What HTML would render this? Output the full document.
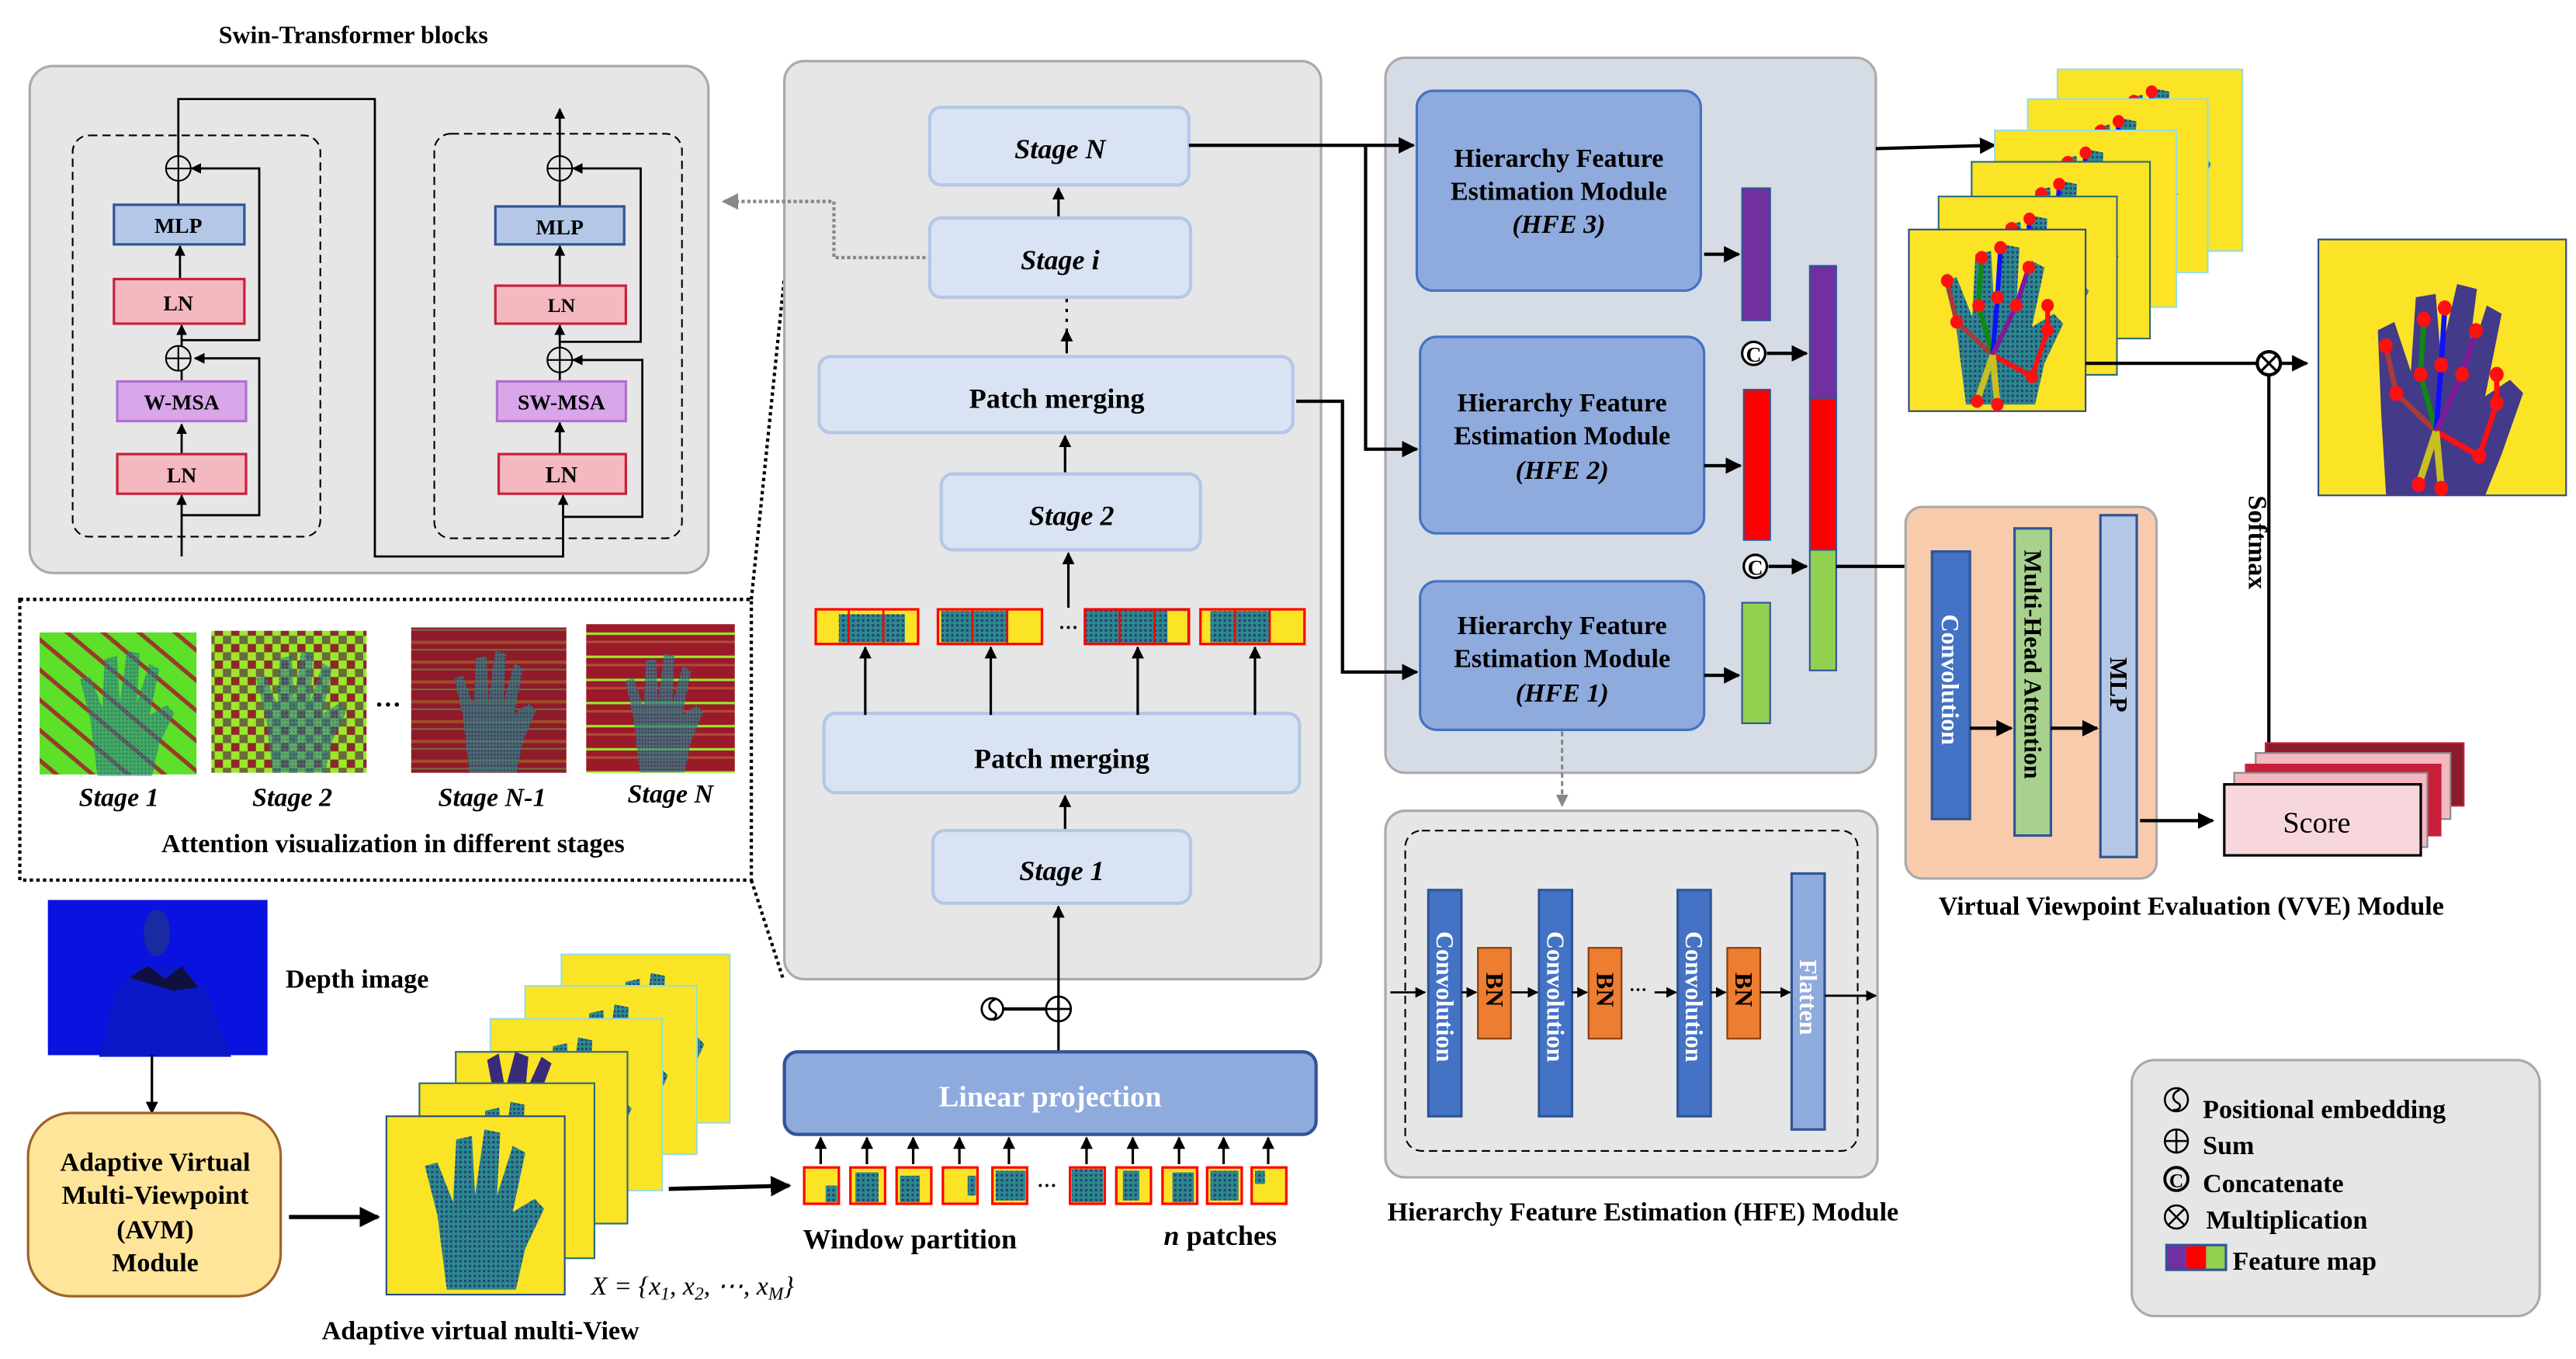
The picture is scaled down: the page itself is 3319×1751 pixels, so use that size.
<!DOCTYPE html>
<html><head><meta charset="utf-8"><style>
html,body{margin:0;padding:0;background:#fff;}
svg{display:block;}
text{font-family:"Liberation Serif",serif;font-weight:bold;fill:#000;}
.it{font-style:italic;}
</style></head><body>
<svg width="3319" height="1751" viewBox="0 0 1560 823" preserveAspectRatio="none" xmlns="http://www.w3.org/2000/svg">
<defs>
<marker id="ah" viewBox="0 0 10 10" refX="9" refY="5" markerWidth="5" markerHeight="5" orient="auto"><path d="M0,0L10,5L0,10z" fill="#000"/></marker>
<marker id="ahg" viewBox="0 0 10 10" refX="9" refY="5" markerWidth="5" markerHeight="5" orient="auto"><path d="M0,0L10,5L0,10z" fill="#888"/></marker>
<pattern id="dots" width="3" height="3" patternUnits="userSpaceOnUse"><rect width="3" height="3" fill="#2a8a8c"/><rect width="1.5" height="1.5" fill="#2b3d7a"/></pattern>
<pattern id="str1" width="14" height="14" patternUnits="userSpaceOnUse" patternTransform="rotate(40)"><rect width="14" height="14" fill="#5ce02a"/><rect width="14" height="2.5" fill="#9a3a2a"/></pattern>
<pattern id="chk" width="10" height="10" patternUnits="userSpaceOnUse"><rect width="10" height="10" fill="#9be82a"/><rect width="5" height="5" fill="#8a2a2a"/><rect x="5" y="5" width="5" height="5" fill="#6a6a3a"/></pattern>
<pattern id="hs1" width="10" height="12" patternUnits="userSpaceOnUse"><rect width="10" height="12" fill="#8e1a2a"/><rect y="4" width="10" height="2" fill="#a04a2a"/><rect y="9" width="10" height="1" fill="#7a6a3a"/></pattern>
<pattern id="hs2" width="10" height="14" patternUnits="userSpaceOnUse"><rect width="10" height="14" fill="#9a1a2a"/><rect y="5" width="10" height="1.5" fill="#9ae82a"/><rect y="10" width="10" height="1.5" fill="#b04a3a"/></pattern>
<g id="hand">
 <path d="M28,105 L22,60 L14,30 L22,28 L32,52 L34,14 L44,12 L46,48 L52,8 L62,10 L60,48 L70,18 L78,22 L70,58 L84,50 L90,56 L78,80 L72,105 Z" fill="url(#dots)"/>
</g>
<g id="skel">
 <g stroke-width="3" fill="none">
 <path d="M45,75 L22,55 L16,30" stroke="#a83a3a"/>
 <path d="M45,75 L36,45 L38,16" stroke="#118811"/>
 <path d="M45,75 L48,40 L50,10" stroke="#1010ff"/>
 <path d="M45,75 L60,45 L68,22" stroke="#801a9a"/>
 <path d="M45,75 L70,88 L80,60 L80,45" stroke="#ff1010"/>
 <path d="M45,75 L35,103 M45,75 L48,105" stroke="#c8c020" stroke-width="4"/>
 </g>
 <g fill="#ff1010">
 <circle cx="16" cy="30" r="4"/><circle cx="22" cy="55" r="4"/><circle cx="38" cy="16" r="4"/><circle cx="36" cy="45" r="4"/><circle cx="50" cy="10" r="4"/><circle cx="48" cy="40" r="4"/><circle cx="68" cy="22" r="4"/><circle cx="60" cy="45" r="4"/><circle cx="80" cy="45" r="4"/><circle cx="80" cy="60" r="4"/><circle cx="70" cy="88" r="4"/><circle cx="35" cy="103" r="4"/><circle cx="48" cy="105" r="4"/>
 </g>
</g>
<clipPath id="c1"><rect x="0" y="0" width="100" height="110"/></clipPath>
</defs>

<!-- Swin-Transformer blocks -->
<text x="214" y="26" font-size="15" text-anchor="middle">Swin-Transformer blocks</text>
<rect x="18" y="40" width="411" height="307" rx="14" fill="#e6e6e6" stroke="#aaa" stroke-width="1.5"/>
<rect x="44" y="82" width="150" height="243" rx="10" fill="none" stroke="#000" stroke-dasharray="5,3"/>
<rect x="263" y="81" width="150" height="245" rx="10" fill="none" stroke="#000" stroke-dasharray="5,3"/>
<g stroke="#000" stroke-width="1.3" fill="none">
 <line x1="110" y1="337" x2="110" y2="300" marker-end="url(#ah)"/>
 <line x1="110" y1="275" x2="110" y2="257" marker-end="url(#ah)"/>
 <line x1="110" y1="231" x2="110" y2="224"/>
 <line x1="110" y1="210" x2="110" y2="197" marker-end="url(#ah)"/>
 <line x1="109" y1="169" x2="109" y2="149" marker-end="url(#ah)"/>
 <line x1="108" y1="124" x2="108" y2="109"/>
 <polyline points="110,312 157,312 157,217 118,217" marker-end="url(#ah)"/>
 <polyline points="110,206 157,206 157,102 116,102" marker-end="url(#ah)"/>
 <polyline points="108,95 108,60 227,60 227,337 341,337 341,300" marker-end="url(#ah)"/>
 <line x1="339" y1="275" x2="339" y2="256" marker-end="url(#ah)"/>
 <line x1="339" y1="231" x2="339" y2="225"/>
 <line x1="339" y1="211" x2="339" y2="197" marker-end="url(#ah)"/>
 <line x1="339" y1="173" x2="339" y2="149" marker-end="url(#ah)"/>
 <line x1="339" y1="125" x2="339" y2="109"/>
 <line x1="339" y1="95" x2="339" y2="66" marker-end="url(#ah)"/>
 <polyline points="341,313 389,313 389,218 347,218" marker-end="url(#ah)"/>
 <polyline points="339,207 388,207 388,102 347,102" marker-end="url(#ah)"/>
</g>
<g stroke="#000" stroke-width="1" fill="none">
 <circle cx="108" cy="102" r="7.5"/><path d="M100.5,102h15M108,94.5v15"/>
 <circle cx="108" cy="217" r="7.5"/><path d="M100.5,217h15M108,209.5v15"/>
 <circle cx="339" cy="102" r="7.5"/><path d="M331.5,102h15M339,94.5v15"/>
 <circle cx="339" cy="218" r="7.5"/><path d="M331.5,218h15M339,210.5v15"/>
</g>
<rect x="69" y="124" width="79" height="24" fill="#b4c7e7" stroke="#2f5597" stroke-width="1.5"/>
<text x="108" y="141" font-size="13" text-anchor="middle">MLP</text>
<rect x="69" y="169" width="79" height="27" fill="#f4b8c0" stroke="#c8203a" stroke-width="1.5"/>
<text x="108" y="188" font-size="13" text-anchor="middle">LN</text>
<rect x="71" y="231" width="78" height="24" fill="#d9a6ea" stroke="#b070d0" stroke-width="1.5"/>
<text x="110" y="248" font-size="13" text-anchor="middle">W-MSA</text>
<rect x="71" y="275" width="78" height="24" fill="#f4b8c0" stroke="#c8203a" stroke-width="1.5"/>
<text x="110" y="292" font-size="13" text-anchor="middle">LN</text>
<rect x="300" y="125" width="78" height="23" fill="#b4c7e7" stroke="#2f5597" stroke-width="1.5"/>
<text x="339" y="142" font-size="13" text-anchor="middle">MLP</text>
<rect x="300" y="173" width="79" height="23" fill="#f4b8c0" stroke="#c8203a" stroke-width="1.5"/>
<text x="340" y="189" font-size="12" text-anchor="middle">LN</text>
<rect x="301" y="231" width="78" height="24" fill="#d9a6ea" stroke="#b070d0" stroke-width="1.5"/>
<text x="340" y="248" font-size="13" text-anchor="middle">SW-MSA</text>
<rect x="302" y="275" width="77" height="24" fill="#f4b8c0" stroke="#c8203a" stroke-width="1.5"/>
<text x="340" y="292" font-size="14" text-anchor="middle">LN</text>

<!-- attention visualization -->
<rect x="12" y="363" width="443" height="170" fill="none" stroke="#000" stroke-width="2" stroke-dasharray="2,2"/>
<line x1="455" y1="363" x2="475" y2="168" stroke="#000" stroke-width="2" stroke-dasharray="2,2"/>
<line x1="455" y1="533" x2="474" y2="592" stroke="#000" stroke-width="2" stroke-dasharray="2,2"/>
<rect x="24" y="383" width="95" height="86" fill="url(#str1)"/>
<use href="#hand" transform="translate(38,388) scale(0.75,0.78)" opacity="0.6"/>
<rect x="128" y="382" width="94" height="86" fill="url(#chk)"/>
<use href="#hand" transform="translate(145,388) scale(0.72,0.76)" opacity="0.6"/>
<rect x="249" y="380" width="94" height="88" fill="url(#hs1)"/>
<use href="#hand" transform="translate(266,388) scale(0.65,0.76)" opacity="0.7"/>
<rect x="355" y="378" width="90" height="90" fill="url(#hs2)"/>
<use href="#hand" transform="translate(370,390) scale(0.62,0.74)" opacity="0.7"/>
<text x="235" y="432" font-size="16" text-anchor="middle">···</text>
<text x="72" y="488" font-size="16" class="it" text-anchor="middle">Stage 1</text>
<text x="177" y="488" font-size="16" class="it" text-anchor="middle">Stage 2</text>
<text x="298" y="488" font-size="16" class="it" text-anchor="middle">Stage N-1</text>
<text x="406" y="486" font-size="16" class="it" text-anchor="middle">Stage N</text>
<text x="238" y="516" font-size="16" text-anchor="middle">Attention visualization in different stages</text>

<!-- middle panel -->
<rect x="475" y="37" width="325" height="556" rx="12" fill="#e6e6e6" stroke="#aaa" stroke-width="1.5"/>
<polyline points="564,156 505,156 505,122 438,122" fill="none" stroke="#888" stroke-width="2" stroke-dasharray="2,1.5" marker-end="url(#ahg)"/>
<g fill="#dae3f3" stroke="#b4c7e7" stroke-width="2">
 <rect x="563" y="65" width="157" height="47" rx="7"/>
 <rect x="563" y="132" width="158" height="48" rx="7"/>
 <rect x="496" y="216" width="287" height="46" rx="7"/>
 <rect x="570" y="287" width="157" height="46" rx="7"/>
 <rect x="499" y="432" width="288" height="48" rx="7"/>
 <rect x="565" y="503" width="156" height="44" rx="7"/>
</g>
<text x="642" y="96" font-size="17" class="it" text-anchor="middle">Stage N</text>
<text x="642" y="163" font-size="17" class="it" text-anchor="middle">Stage i</text>
<text x="640" y="247" font-size="17" text-anchor="middle">Patch merging</text>
<text x="649" y="318" font-size="17" class="it" text-anchor="middle">Stage 2</text>
<text x="643" y="465" font-size="17" text-anchor="middle">Patch merging</text>
<text x="643" y="533" font-size="17" class="it" text-anchor="middle">Stage 1</text>
<g stroke="#000" stroke-width="1.5" fill="none">
 <line x1="641" y1="131" x2="641" y2="114" marker-end="url(#ah)"/>
 <line x1="646" y1="181" x2="646" y2="200" stroke-dasharray="2,4"/>
 <line x1="646" y1="214" x2="646" y2="200" marker-end="url(#ah)"/>
 <line x1="645" y1="286" x2="645" y2="264" marker-end="url(#ah)"/>
 <line x1="647" y1="368" x2="647" y2="335" marker-end="url(#ah)"/>
 <line x1="645" y1="502" x2="645" y2="482" marker-end="url(#ah)"/>
 <line x1="641" y1="637" x2="641" y2="549" marker-end="url(#ah)"/>
 <line x1="524" y1="433" x2="524" y2="392" marker-end="url(#ah)"/>
 <line x1="600" y1="433" x2="600" y2="392" marker-end="url(#ah)"/>
 <line x1="689" y1="433" x2="689" y2="392" marker-end="url(#ah)"/>
 <line x1="760" y1="433" x2="760" y2="392" marker-end="url(#ah)"/>
</g>
<g>
 <rect x="494" y="369" width="62" height="21" fill="#fbe425" stroke="#f00" stroke-width="1.5"/>
 <rect x="508" y="372" width="40" height="17" fill="url(#dots)"/>
 <rect x="568" y="369" width="63" height="21" fill="#fbe425" stroke="#f00" stroke-width="1.5"/>
 <rect x="570" y="370" width="40" height="19" fill="url(#dots)"/>
 <rect x="657" y="369" width="63" height="21" fill="url(#dots)" stroke="#f00" stroke-width="1.5"/>
 <rect x="707" y="370" width="12" height="19" fill="#fbe425"/>
 <rect x="727" y="369" width="63" height="21" fill="#fbe425" stroke="#f00" stroke-width="1.5"/>
 <rect x="733" y="370" width="36" height="19" fill="url(#dots)"/>
 <g stroke="#f00" stroke-width="1.2"><path d="M514,369v21M535,369v21M589,369v21M610,369v21M678,369v21M699,369v21M748,369v21M769,369v21"/></g>
</g>
<text x="647" y="384" font-size="12" text-anchor="middle">···</text>

<g stroke="#000" stroke-width="1.3" fill="none">
 <circle cx="641" cy="611" r="7.5"/><path d="M633.5,611h15M641,603.5v15"/>
 <line x1="607" y1="611" x2="633" y2="611" stroke-width="2"/>
 <circle cx="601" cy="611" r="6.5"/><path d="M603,605c-5,2 -5,6 -1,8c3,2 0,5 -3,4"/>
</g>
<rect x="475" y="637" width="322" height="50" rx="8" fill="#8faadc" stroke="#2f5597" stroke-width="2"/>
<text x="636" y="670" font-size="18" text-anchor="middle" style="fill:#fff">Linear projection</text>
<g>
 <g fill="#fbe425" stroke="#f00" stroke-width="1.5">
 <rect x="487" y="707" width="21" height="22"/><rect x="515" y="707" width="21" height="22"/><rect x="543" y="707" width="21" height="22"/><rect x="571" y="707" width="21" height="22"/><rect x="601" y="707" width="21" height="22"/>
 <rect x="648" y="707" width="21" height="22"/><rect x="676" y="707" width="21" height="22"/><rect x="704" y="707" width="21" height="22"/><rect x="731" y="707" width="21" height="22"/><rect x="758" y="707" width="21" height="22"/>
 </g>
 <g fill="url(#dots)">
 <rect x="500" y="718" width="7" height="10"/><rect x="518" y="710" width="14" height="18"/><rect x="545" y="712" width="12" height="16"/><rect x="586" y="712" width="5" height="12"/><rect x="603" y="709" width="18" height="18"/>
 <rect x="649" y="708" width="19" height="20"/><rect x="680" y="709" width="10" height="18"/><rect x="710" y="710" width="13" height="18"/><rect x="733" y="709" width="17" height="18"/><rect x="760" y="709" width="6" height="8"/>
 </g>
 <g stroke="#000" stroke-width="1.5">
 <line x1="497" y1="705" x2="497" y2="689" marker-end="url(#ah)"/><line x1="525" y1="705" x2="525" y2="689" marker-end="url(#ah)"/><line x1="553" y1="705" x2="553" y2="689" marker-end="url(#ah)"/><line x1="581" y1="705" x2="581" y2="689" marker-end="url(#ah)"/><line x1="611" y1="705" x2="611" y2="689" marker-end="url(#ah)"/>
 <line x1="658" y1="705" x2="658" y2="689" marker-end="url(#ah)"/><line x1="686" y1="705" x2="686" y2="689" marker-end="url(#ah)"/><line x1="714" y1="705" x2="714" y2="689" marker-end="url(#ah)"/><line x1="741" y1="705" x2="741" y2="689" marker-end="url(#ah)"/><line x1="768" y1="705" x2="768" y2="689" marker-end="url(#ah)"/>
 </g>
 <text x="634" y="722" font-size="12" text-anchor="middle">···</text>
</g>
<text x="551" y="756" font-size="17" text-anchor="middle">Window partition</text>
<text x="739" y="754" font-size="17" text-anchor="middle"><tspan class="it">n</tspan> patches</text>

<!-- depth & AVM -->
<rect x="29" y="545" width="133" height="94" fill="#0a12e0"/>
<ellipse cx="95" cy="565" rx="8" ry="14" fill="#1a2aa0"/>
<path d="M70,600 L85,585 L110,585 L125,600 L140,640 L60,640 Z" fill="#0a18c8"/>
<path d="M78,592 L90,585 L100,593 L110,585 L120,598 L105,600 Z" fill="#101040"/>
<text x="173" y="598" font-size="16">Depth image</text>
<line x1="92" y1="639" x2="92" y2="674" stroke="#000" stroke-width="1.5" marker-end="url(#ah)"/>
<rect x="17" y="674" width="153" height="111" rx="26" fill="#fee599" stroke="#a0622d" stroke-width="1.5"/>
<text x="94" y="709" font-size="16" text-anchor="middle">Adaptive Virtual</text>
<text x="94" y="729" font-size="16" text-anchor="middle">Multi-Viewpoint</text>
<text x="94" y="750" font-size="16" text-anchor="middle">(AVM)</text>
<text x="94" y="770" font-size="16" text-anchor="middle">Module</text>
<line x1="175" y1="737" x2="229" y2="737" stroke="#000" stroke-width="2.5" marker-end="url(#ah)"/>
<!-- multi-view stack -->
<rect x="340" y="578" width="102" height="102" fill="#fbe425" stroke="#9dd"/>
<use href="#hand" transform="translate(350,582) scale(0.85,0.9)"/>
<rect x="318" y="597" width="104" height="102" fill="#fbe425" stroke="#9dd"/>
<use href="#hand" transform="translate(328,601) scale(0.85,0.9)"/>
<rect x="297" y="617" width="104" height="104" fill="#fbe425" stroke="#9dd"/>
<use href="#hand" transform="translate(306,621) scale(0.85,0.9)"/>
<rect x="276" y="637" width="104" height="104" fill="#fbe425" stroke="#2a6a7a"/>
<path d="M295,642 L302,638 L306,660 L312,637 L320,640 L318,662 L328,640 L334,644 L325,668 L300,668 Z" fill="#3a2a7a"/>
<rect x="254" y="656" width="106" height="106" fill="#fbe425" stroke="#2a6a7a"/>
<use href="#hand" transform="translate(265,660) scale(0.85,0.9)"/>
<rect x="234" y="676" width="108" height="108" fill="#fbe425" stroke="#2a4a8a" stroke-width="1"/>
<use href="#hand" transform="translate(244,676) scale(0.95,1.0)"/>
<line x1="405" y1="720" x2="478" y2="718" stroke="#000" stroke-width="2.5" marker-end="url(#ah)"/>
<text x="358" y="784" font-size="16" class="it" style="font-weight:normal">X = {x<tspan font-size="11" dy="3">1</tspan><tspan dy="-3">, x</tspan><tspan font-size="11" dy="3">2</tspan><tspan dy="-3">, ⋯, x</tspan><tspan font-size="11" dy="3">M</tspan><tspan dy="-3">}</tspan></text>
<text x="291" y="811" font-size="16" text-anchor="middle">Adaptive virtual multi-View</text>

<!-- HFE panel -->
<rect x="839" y="35" width="297" height="433" rx="12" fill="#d6dce5" stroke="#aaa" stroke-width="1.5"/>
<g fill="#8faadc" stroke="#4472c4" stroke-width="1.5">
 <rect x="858" y="55" width="172" height="121" rx="10"/>
 <rect x="860" y="204" width="172" height="119" rx="10"/>
 <rect x="860" y="352" width="172" height="90" rx="10"/>
</g>
<g font-size="16" text-anchor="middle">
 <text x="944" y="101">Hierarchy Feature</text><text x="944" y="121">Estimation Module</text><text x="944" y="141" class="it">(HFE 3)</text>
 <text x="946" y="249">Hierarchy Feature</text><text x="946" y="269">Estimation Module</text><text x="946" y="290" class="it">(HFE 2)</text>
 <text x="946" y="384">Hierarchy Feature</text><text x="946" y="404">Estimation Module</text><text x="946" y="425" class="it">(HFE 1)</text>
</g>
<rect x="1055" y="114" width="17" height="80" fill="#7030a0" stroke="#2f5597"/>
<rect x="1056" y="236" width="16" height="91" fill="#ff0000" stroke="#2f5597"/>
<rect x="1055" y="365" width="17" height="73" fill="#92d050" stroke="#2f5597"/>
<rect x="1096" y="161" width="16" height="80" fill="#7030a0" stroke="#2f5597"/>
<rect x="1096" y="241" width="16" height="92" fill="#ff0000" stroke="#2f5597"/>
<rect x="1096" y="333" width="16" height="73" fill="#92d050" stroke="#2f5597"/>
<g stroke="#000" stroke-width="2" fill="none">
 <line x1="1032" y1="154" x2="1053" y2="154" marker-end="url(#ah)"/>
 <line x1="1032" y1="282" x2="1054" y2="282" marker-end="url(#ah)"/>
 <line x1="1032" y1="409" x2="1053" y2="409" marker-end="url(#ah)"/>
 <line x1="1070" y1="214" x2="1094" y2="214" marker-end="url(#ah)"/>
 <line x1="1071" y1="343" x2="1094" y2="343" marker-end="url(#ah)"/>
 <line x1="1112" y1="343" x2="1164" y2="343" marker-end="url(#ah)"/>
 <polyline points="720,88 856,88" marker-end="url(#ah)"/>
 <polyline points="827,88 827,272 858,272" marker-end="url(#ah)"/>
 <polyline points="785,243 813,243 813,407 858,407" marker-end="url(#ah)"/>
 <line x1="1136" y1="90" x2="1208" y2="88" marker-end="url(#ah)"/>
</g>
<g stroke="#000" stroke-width="1.5" fill="#fff">
 <circle cx="1062" cy="214" r="7"/><circle cx="1063" cy="343" r="7"/>
</g>
<text x="1062" y="219" font-size="13" text-anchor="middle">C</text>
<text x="1063" y="348" font-size="13" text-anchor="middle">C</text>
<line x1="946" y1="443" x2="946" y2="488" stroke="#888" stroke-width="1.5" stroke-dasharray="3,2" marker-end="url(#ahg)"/>

<!-- hand stack -->
<rect x="1246" y="42" width="112" height="110" fill="#fbe425" stroke="#9dd"/>
<use href="#hand" transform="translate(1258,46) scale(0.9,0.95)"/><use href="#skel" transform="translate(1258,46) scale(0.9,0.95)"/>
<rect x="1228" y="60" width="109" height="105" fill="#fbe425" stroke="#9dd"/>
<use href="#hand" transform="translate(1238,64) scale(0.9,0.95)"/><use href="#skel" transform="translate(1238,64) scale(0.9,0.95)"/>
<rect x="1208" y="79" width="110" height="107" fill="#fbe425" stroke="#9dd"/>
<use href="#hand" transform="translate(1218,83) scale(0.9,0.95)"/><use href="#skel" transform="translate(1218,83) scale(0.9,0.95)"/>
<rect x="1194" y="98" width="108" height="107" fill="#fbe425" stroke="#2a6a7a"/>
<use href="#hand" transform="translate(1202,102) scale(0.9,0.95)"/><use href="#skel" transform="translate(1202,102) scale(0.9,0.95)"/>
<rect x="1174" y="119" width="108" height="108" fill="#fbe425" stroke="#2a6a7a"/>
<use href="#hand" transform="translate(1184,123) scale(0.9,0.95)"/><use href="#skel" transform="translate(1184,123) scale(0.9,0.95)"/>
<rect x="1156" y="139" width="107" height="110" fill="#fbe425" stroke="#2a4a8a" stroke-width="1"/>
<use href="#hand" transform="translate(1164,140) scale(0.95,1.0)"/>
<use href="#skel" transform="translate(1164,140) scale(0.95,1.0)"/>
<line x1="1263" y1="220" x2="1367" y2="220" stroke="#000" stroke-width="2"/>
<circle cx="1374" cy="220" r="7" fill="#fff" stroke="#000" stroke-width="2"/>
<path d="M1369,215l10,10M1379,215l-10,10" stroke="#000" stroke-width="1.5"/>
<line x1="1381" y1="220" x2="1397" y2="220" stroke="#000" stroke-width="2" marker-end="url(#ah)"/>
<line x1="1374" y1="227" x2="1374" y2="450" stroke="#000" stroke-width="2"/>
<text x="0" y="0" font-size="16" transform="translate(1362,300) rotate(90)">Softmax</text>
<rect x="1404" y="145" width="150" height="155" fill="#fbe425" stroke="#2a4a8a" stroke-width="1"/>
<path d="M1445,300 L1442,250 L1440,200 L1450,195 L1460,225 L1463,180 L1475,178 L1478,215 L1488,172 L1500,175 L1494,222 L1506,185 L1515,190 L1505,240 L1520,230 L1528,238 L1515,275 L1505,300 Z" fill="#433a8a"/>
<use href="#skel" transform="translate(1428,175) scale(1.05,1.15)"/>

<!-- VVE -->
<rect x="1154" y="307" width="152" height="225" rx="10" fill="#f8cbad" stroke="#aaa" stroke-width="1.5"/>
<rect x="1170" y="334" width="23" height="162" fill="#4472c4" stroke="#2f5597" stroke-width="1.5"/>
<rect x="1220" y="320" width="22" height="186" fill="#a9d18e" stroke="#2f5597" stroke-width="1.5"/>
<rect x="1272" y="312" width="22" height="207" fill="#b4c7e7" stroke="#2f5597" stroke-width="1.5"/>
<text font-size="15" transform="translate(1176,372) rotate(90)" style="fill:#fff">Convolution</text>
<text font-size="15" transform="translate(1226,333) rotate(90)">Multi-Head Attention</text>
<text font-size="15" transform="translate(1278,398) rotate(90)">MLP</text>
<g stroke="#000" stroke-width="2">
 <line x1="1193" y1="441" x2="1218" y2="441" marker-end="url(#ah)"/>
 <line x1="1242" y1="441" x2="1270" y2="441" marker-end="url(#ah)"/>
 <line x1="1296" y1="497" x2="1340" y2="497" marker-end="url(#ah)"/>
</g>
<rect x="1372" y="450" width="120" height="38" fill="#8b1a2b" stroke="#c8203a"/>
<rect x="1366" y="456" width="118" height="40" fill="#f4b8c0" stroke="#888"/>
<rect x="1360" y="463" width="118" height="43" fill="#c8203a" stroke="#c8203a"/>
<rect x="1353" y="468" width="117" height="45" fill="#f4b8c0" stroke="#888"/>
<rect x="1347" y="475" width="119" height="43" fill="#f8d7dc" stroke="#000" stroke-width="1.5"/>
<text x="1403" y="504" font-size="18" text-anchor="middle" style="font-weight:normal">Score</text>
<text x="1327" y="554" font-size="16" text-anchor="middle">Virtual  Viewpoint Evaluation (VVE) Module</text>

<!-- HFE module detail -->
<rect x="839" y="491" width="298" height="222" rx="12" fill="#e6e6e6" stroke="#aaa" stroke-width="1.5"/>
<rect x="851" y="503" width="274" height="194" rx="10" fill="none" stroke="#000" stroke-dasharray="5,3"/>
<g fill="#4472c4" stroke="#2f5597" stroke-width="1.5">
 <rect x="865" y="539" width="20" height="137"/><rect x="932" y="539" width="20" height="137"/><rect x="1016" y="539" width="20" height="137"/>
</g>
<g fill="#ed7d31" stroke="#843c0c" stroke-width="1">
 <rect x="895" y="574" width="20" height="55"/><rect x="962" y="574" width="20" height="55"/><rect x="1046" y="574" width="20" height="55"/>
</g>
<rect x="1085" y="529" width="20" height="155" fill="#8faadc" stroke="#2f5597" stroke-width="1.5"/>
<g font-size="15">
 <text transform="translate(870,564) rotate(90)" style="fill:#fff">Convolution</text>
 <text transform="translate(937,564) rotate(90)" style="fill:#fff">Convolution</text>
 <text transform="translate(1021,564) rotate(90)" style="fill:#fff">Convolution</text>
 <text transform="translate(900,589) rotate(90)">BN</text>
 <text transform="translate(967,589) rotate(90)">BN</text>
 <text transform="translate(1051,589) rotate(90)">BN</text>
 <text transform="translate(1090,581) rotate(90)" style="fill:#fff">Flatten</text>
</g>
<g stroke="#000" stroke-width="1.3">
 <line x1="842" y1="601" x2="863" y2="601" marker-end="url(#ah)"/>
 <line x1="885" y1="601" x2="894" y2="601" marker-end="url(#ah)"/>
 <line x1="915" y1="601" x2="931" y2="601" marker-end="url(#ah)"/>
 <line x1="952" y1="601" x2="961" y2="601" marker-end="url(#ah)"/>
 <line x1="1002" y1="601" x2="1015" y2="601" marker-end="url(#ah)"/>
 <line x1="1036" y1="601" x2="1045" y2="601" marker-end="url(#ah)"/>
 <line x1="1066" y1="601" x2="1084" y2="601" marker-end="url(#ah)"/>
 <line x1="1105" y1="603" x2="1136" y2="603" marker-end="url(#ah)"/>
</g>
<text x="992" y="603" font-size="11" text-anchor="middle">···</text>
<text x="995" y="739" font-size="16" text-anchor="middle">Hierarchy Feature Estimation (HFE) Module</text>

<!-- legend -->
<rect x="1291" y="642" width="247" height="155" rx="14" fill="#e6e6e6" stroke="#aaa" stroke-width="1.5"/>
<g stroke="#000" stroke-width="1.2" fill="none">
 <circle cx="1318" cy="666" r="7"/><path d="M1320,660c-5,2 -5,6 -1,8c3,2 0,5 -3,4"/>
 <circle cx="1318" cy="691" r="7"/><path d="M1311,691h14M1318,684v14"/>
 <circle cx="1318" cy="714" r="7" stroke-width="1.8"/>
 <circle cx="1318" cy="737" r="7"/><path d="M1313,732l10,10M1323,732l-10,10"/>
</g>
<text x="1318" y="719" font-size="12" text-anchor="middle">C</text>
<g font-size="16">
 <text x="1334" y="677">Positional embedding</text>
 <text x="1334" y="699">Sum</text>
 <text x="1334" y="722">Concatenate</text>
 <text x="1336" y="744">Multiplication</text>
 <text x="1352" y="769">Feature map</text>
</g>
<rect x="1312" y="754" width="12" height="15" fill="#7030a0"/>
<rect x="1324" y="754" width="12" height="15" fill="#ff0000"/>
<rect x="1336" y="754" width="12" height="15" fill="#92d050"/>
<rect x="1312" y="754" width="36" height="15" fill="none" stroke="#2f5597" stroke-width="1.5"/>
</svg>
</body></html>
